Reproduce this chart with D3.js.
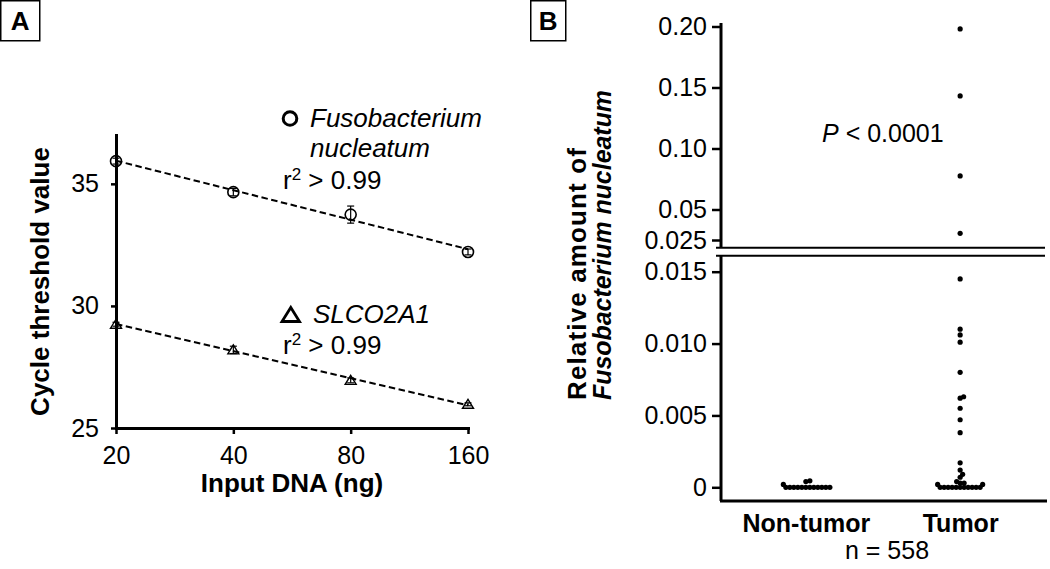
<!DOCTYPE html>
<html>
<head>
<meta charset="utf-8">
<script src="https://cdn.jsdelivr.net/npm/d3@7"></script>
<style>
  body { margin: 0; background: #fff; }
  svg { display: block; }
  text { font-family: "Liberation Sans", Arial, sans-serif; fill: #000; }
</style>
</head>
<body>
<div id="chart"></div>
<script>
// ---- data: panel A (standard curves) ----
var inputDNA = [20, 40, 80, 160];
var fusoCt = [35.93, 34.66, 33.74, 32.21];
var fusoErr = [0.12, 0.15, 0.35, 0.12];
var slcoCt = [29.25, 28.20, 26.95, 25.97];
var slcoErr = [0.08, 0.15, 0.10, 0.06];
var ctTicks = [25, 30, 35];

// ---- data: panel B (relative amount, tumor vs non-tumor) ----
var groups = ["Non-tumor", "Tumor"];
var nonTumorValues = [0, 0, 0, 0, 0, 0, 0, 0, 0, 0, 0, 0, 0.0002, 0.0004, 0.00045];
var tumorValues = [0.198, 0.1431, 0.0775, 0.0305, 0.0145, 0.0110, 0.0106, 0.0101,
  0.0080, 0.0063, 0.0062, 0.0055, 0.0047, 0.0038, 0.0017, 0.0012, 0.0009, 0.0007,
  0.0004, 0.0003, 0.0003, 0.0002, 0.0002, 0, 0, 0, 0, 0, 0, 0, 0, 0, 0, 0];
var upperTicks = [0.025, 0.05, 0.10, 0.15, 0.20];
var upperTickLabels = ["0.025", "0.05", "0.10", "0.15", "0.20"];
var lowerTicks = [0, 0.005, 0.010, 0.015];
var lowerTickLabels = ["0", "0.005", "0.010", "0.015"];
var pText = "< 0.0001";
var nText = "n = 558";

var font = '"Liberation Sans", Arial, sans-serif';

var svg = d3.select("#chart")
  .append("svg")
    .attr("width", 1050)
    .attr("height", 569);

// common axis look
function styleAxis(g, size) {
  g.attr("font-family", font).attr("font-size", size);
  g.select(".domain").attr("stroke-width", 3).attr("stroke-linecap", "square");
  g.selectAll(".tick line").attr("stroke-width", 2.5);
  g.selectAll(".tick text").attr("fill", "#000");
}

// boxed panel letters
function panelLabel(x, w, letter) {
  svg.append("rect")
    .attr("x", x + 0.75).attr("y", 0.75)
    .attr("width", w).attr("height", 40)
    .attr("fill", "none").attr("stroke", "#000").attr("stroke-width", 1.5);
  svg.append("text")
    .attr("x", x + 0.75 + w / 2).attr("y", 30)
    .attr("text-anchor", "middle")
    .attr("font-size", 26).attr("font-weight", "bold")
    .text(letter);
}
panelLabel(0, 39, "A");
panelLabel(530, 35, "B");

// ================= Panel A =================
var xA = d3.scaleLog().base(2).domain([20, 160]).range([116, 468]);
var yA = d3.scaleLinear().domain([25, 37]).range([428, 135]);

svg.append("g")
  .attr("transform", "translate(116,0)")
  .call(d3.axisLeft(yA).tickValues(ctTicks).tickSize(5).tickPadding(12).tickSizeOuter(0))
  .call(styleAxis, 25);

svg.append("g")
  .attr("transform", "translate(0,428)")
  .call(d3.axisBottom(xA).tickValues(inputDNA).tickFormat(d3.format("d"))
    .tickSize(6).tickPadding(12).tickSizeOuter(0))
  .call(styleAxis, 25);

svg.append("text")
  .attr("x", 292).attr("y", 492)
  .attr("text-anchor", "middle")
  .attr("font-size", 26).attr("font-weight", "bold")
  .text("Input DNA (ng)");

svg.append("text")
  .attr("transform", "translate(49,281.5) rotate(-90)")
  .attr("text-anchor", "middle")
  .attr("font-size", 26).attr("font-weight", "bold")
  .text("Cycle threshold value");

// least squares fit in log2(x)
function fitLine(ys) {
  var xs = inputDNA.map(d => Math.log2(d));
  var mx = d3.mean(xs), my = d3.mean(ys);
  var b = d3.sum(xs, (x, i) => (x - mx) * (ys[i] - my)) / d3.sum(xs, x => (x - mx) * (x - mx));
  var a = my - b * mx;
  return inputDNA.filter((d, i) => i === 0 || i === inputDNA.length - 1)
    .map(d => [xA(d), yA(a + b * Math.log2(d))]);
}

var seriesA = [
  {ct: fusoCt, err: fusoErr, shape: "circle"},
  {ct: slcoCt, err: slcoErr, shape: "triangle"}
];

seriesA.forEach(function (s) {
  var pts = inputDNA.map((d, i) => ({x: d, y: s.ct[i], e: s.err[i]}));

  svg.append("path")
    .attr("d", d3.line()(fitLine(s.ct)))
    .attr("fill", "none")
    .attr("stroke", "#000")
    .attr("stroke-width", 2)
    .attr("stroke-dasharray", "6.5,3.5");

  // error bars
  var eb = svg.append("g").attr("stroke", "#000").attr("stroke-width", 1.2);
  eb.selectAll("vert").data(pts).enter().append("line")
    .attr("x1", d => xA(d.x)).attr("x2", d => xA(d.x))
    .attr("y1", d => yA(d.y + d.e)).attr("y2", d => yA(d.y - d.e));
  eb.selectAll("capTop").data(pts).enter().append("line")
    .attr("x1", d => xA(d.x) - 3.5).attr("x2", d => xA(d.x) + 3.5)
    .attr("y1", d => yA(d.y + d.e)).attr("y2", d => yA(d.y + d.e));
  eb.selectAll("capBot").data(pts).enter().append("line")
    .attr("x1", d => xA(d.x) - 3.5).attr("x2", d => xA(d.x) + 3.5)
    .attr("y1", d => yA(d.y - d.e)).attr("y2", d => yA(d.y - d.e));

  if (s.shape === "circle") {
    svg.selectAll("circMark").data(pts).enter().append("circle")
      .attr("cx", d => xA(d.x)).attr("cy", d => yA(d.y))
      .attr("r", 5.5)
      .attr("fill", "none").attr("stroke", "#000").attr("stroke-width", 1.6);
  } else {
    svg.selectAll("triMark").data(pts).enter().append("path")
      .attr("transform", d => `translate(${xA(d.x)},${yA(d.y)})`)
      .attr("d", "M0,-5L5.5,4L-5.5,4Z")
      .attr("fill", "none").attr("stroke", "#000").attr("stroke-width", 1.4);
  }
});

// legend / annotations
svg.append("circle")
  .attr("cx", 290).attr("cy", 118.5).attr("r", 6.8)
  .attr("fill", "none").attr("stroke", "#000").attr("stroke-width", 3);
svg.append("text").attr("x", 310).attr("y", 127)
  .attr("font-size", 26).attr("font-style", "italic").text("Fusobacterium");
svg.append("text").attr("x", 310).attr("y", 157)
  .attr("font-size", 26).attr("font-style", "italic").text("nucleatum");

function rSquared(x, y) {
  var t = svg.append("text").attr("x", x).attr("y", y).attr("font-size", 26);
  t.append("tspan").text("r");
  t.append("tspan").attr("dy", -9).attr("font-size", 17).text("2");
  t.append("tspan").attr("dy", 9).text(" > 0.99");
}
rSquared(283, 189);

svg.append("path")
  .attr("d", "M290.8,307.5L299.5,321.5L282,321.5Z")
  .attr("fill", "none").attr("stroke", "#000").attr("stroke-width", 2.8);
svg.append("text").attr("x", 313).attr("y", 323)
  .attr("font-size", 26).attr("font-style", "italic").text("SLCO2A1");
rSquared(283, 354);

// ================= Panel B =================
var xB = d3.scalePoint().domain(groups).range([721, 1045]).padding(0.55);
var yUp = d3.scaleLinear().domain([0.025, 0.2]).range([240, 26.5]);
var yLow = d3.scaleLinear().domain([0, 0.015]).range([487.3, 271.7]);
var breakVal = 0.015;

var gUp = svg.append("g")
  .attr("transform", "translate(721,0)")
  .call(d3.axisLeft(yUp).tickValues(upperTicks).tickFormat((d, i) => upperTickLabels[i])
    .tickSize(9).tickPadding(5))
  .call(styleAxis, 25);
gUp.select(".domain").remove();

var gLow = svg.append("g")
  .attr("transform", "translate(721,0)")
  .call(d3.axisLeft(yLow).tickValues(lowerTicks).tickFormat((d, i) => lowerTickLabels[i])
    .tickSize(9).tickPadding(5))
  .call(styleAxis, 25);
gLow.select(".domain").remove();

// broken y axis
svg.append("line").attr("x1", 721).attr("x2", 721).attr("y1", 23).attr("y2", 247.5)
  .attr("stroke", "#000").attr("stroke-width", 3);
svg.append("line").attr("x1", 721).attr("x2", 721).attr("y1", 256).attr("y2", 501)
  .attr("stroke", "#000").attr("stroke-width", 3);
[247.7, 255.7].forEach(function (y) {
  svg.append("line").attr("x1", 716).attr("x2", 1045).attr("y1", y).attr("y2", y)
    .attr("stroke", "#000").attr("stroke-width", 2);
});

var gX = svg.append("g")
  .attr("transform", "translate(0,500.5)")
  .call(d3.axisBottom(xB).tickSize(0).tickPadding(14).tickSizeOuter(0))
  .call(styleAxis, 25);
gX.selectAll(".tick text").attr("font-weight", "bold");

svg.append("text")
  .attr("x", 887).attr("y", 559)
  .attr("text-anchor", "middle").attr("font-size", 25)
  .text(nText);

var pt = svg.append("text").attr("x", 822).attr("y", 142).attr("font-size", 25);
pt.append("tspan").attr("font-style", "italic").text("P");
pt.append("tspan").text(" " + pText);

// y title, two lines
svg.append("text")
  .attr("transform", "translate(586,400) rotate(-90)")
  .attr("font-size", 26).attr("font-weight", "bold")
  .attr("textLength", 252).attr("lengthAdjust", "spacing")
  .text("Relative amount of");
svg.append("text")
  .attr("transform", "translate(611,400) rotate(-90)")
  .attr("font-size", 25).attr("font-weight", "bold").attr("font-style", "italic")
  .attr("textLength", 310).attr("lengthAdjust", "spacingAndGlyphs")
  .text("Fusobacterium nucleatum");

// simple beeswarm so the dots near zero spread sideways
function yB(v) { return v > breakVal ? yUp(v) : yLow(v); }
function swarm(values, cx, minD) {
  var placed = [];
  values.slice().sort(d3.ascending).forEach(function (v) {
    var py = yB(v), k = 0, dx = 0;
    while (true) {
      dx = (k % 2 === 1 ? 1 : -1) * Math.ceil(k / 2) * 0.5;
      var ok = placed.every(p => Math.hypot(p.x - (cx + dx), p.y - py) >= minD);
      if (ok) break;
      k++;
    }
    placed.push({x: cx + dx, y: py});
  });
  return placed;
}

var dots = swarm(nonTumorValues, xB("Non-tumor"), 3.6)
  .concat(swarm(tumorValues, xB("Tumor"), 3.6));

svg.selectAll("dots")
  .data(dots)
  .enter()
  .append("circle")
    .attr("cx", d => d.x)
    .attr("cy", d => d.y)
    .attr("r", 2.6)
    .attr("fill", "#000");
</script>
</body>
</html>
